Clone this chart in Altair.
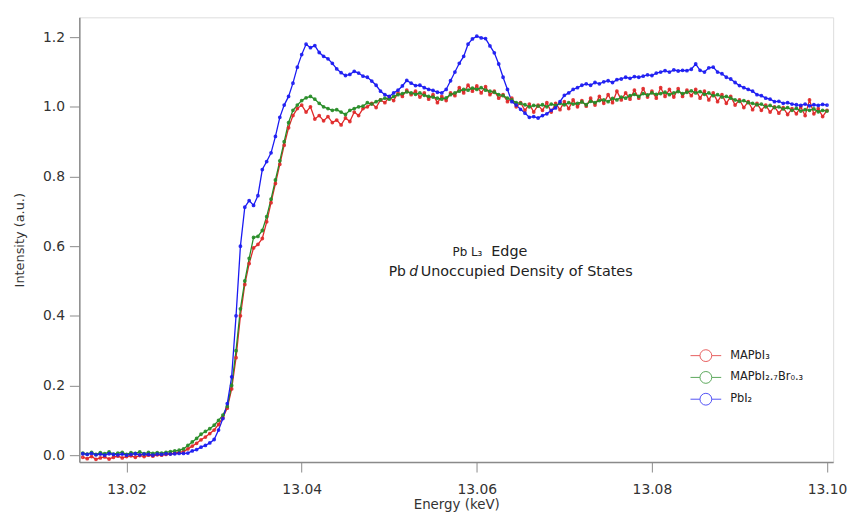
import altair as alt
import pandas as pd

# ---------------- data ----------------
E_START = 13.015
E_STEP = 0.0005

series_names = ["MAPbI₃", "MAPbI₂.₇Br₀.₃", "PbI₂"]
series_colors = ["#e02828", "#268c26", "#1a1af2"]

mapbi3 = [
    -0.006, -0.010, -0.004, -0.012, -0.008, -0.005, -0.011, -0.006, -0.003, -0.008,
    -0.004, -0.002, -0.006, -0.001, -0.004, 0.000, -0.003, 0.001,
    0.000, 0.002, 0.004, 0.006, 0.008, 0.010, 0.018, 0.026, 0.034, 0.044,
    0.052, 0.062, 0.072, 0.088, 0.108, 0.135, 0.19, 0.28, 0.40, 0.49,
    0.55, 0.595, 0.605, 0.622, 0.67, 0.725, 0.78, 0.835, 0.89, 0.94,
    0.975, 0.995, 1.005, 0.985, 1.0, 0.965, 0.975, 0.96, 0.972, 0.955,
    0.962, 0.948, 0.968, 0.958, 0.985, 0.975, 0.995, 1.0, 1.01, 0.998,
    1.02, 1.012, 1.028, 1.018, 1.04, 1.03, 1.048, 1.035, 1.045, 1.028,
    1.04, 1.022, 1.035, 1.012, 1.03, 1.018, 1.04, 1.032, 1.055, 1.04,
    1.062, 1.045, 1.06, 1.04, 1.058, 1.035, 1.045, 1.025, 1.035, 1.015,
    1.025, 1.0, 1.012, 0.99, 1.008, 0.985, 1.005, 0.99, 1.012, 0.985,
    1.01, 0.992, 1.015, 0.995, 1.02, 1.0, 1.018, 1.002, 1.025, 1.005,
    1.03, 1.01, 1.035, 1.012, 1.045, 1.02, 1.04, 1.022, 1.048, 1.025,
    1.052, 1.028, 1.045, 1.025, 1.055, 1.03, 1.05, 1.028, 1.052, 1.03,
    1.048, 1.032, 1.05, 1.025, 1.045, 1.02, 1.04, 1.015, 1.035, 1.01,
    1.03, 1.005, 1.02, 0.998, 1.015, 0.992, 1.01, 0.99, 1.005, 0.985,
    1.0, 0.982, 0.998, 0.978, 0.995, 0.98, 1.0, 0.975, 1.02, 0.98,
    0.995, 0.972, 0.99,
]

mapbi27br03 = [
    0.006, 0.003, 0.008, 0.002, 0.007, 0.004, 0.009, 0.003, 0.006, 0.008,
    0.002, 0.007, 0.005, 0.009, 0.004, 0.008, 0.005, 0.007,
    0.006, 0.008, 0.010, 0.012, 0.014, 0.018, 0.028, 0.038, 0.048, 0.060,
    0.068, 0.076, 0.086, 0.10, 0.115, 0.14, 0.20, 0.30, 0.42, 0.50,
    0.565, 0.625, 0.628, 0.645, 0.685, 0.735, 0.79, 0.845, 0.90, 0.955,
    0.99, 1.005, 1.018, 1.026, 1.03, 1.022, 1.01, 1.0, 0.995, 0.99,
    0.992, 0.985, 0.978, 0.99, 0.995, 1.0, 1.002, 1.012, 1.008, 1.015,
    1.02, 1.025, 1.022, 1.03, 1.035, 1.038, 1.043, 1.04, 1.036, 1.04,
    1.033, 1.03, 1.028, 1.025, 1.022, 1.026, 1.035, 1.04, 1.045, 1.05,
    1.048, 1.054, 1.05, 1.055, 1.048, 1.045, 1.042, 1.035, 1.032, 1.025,
    1.02, 1.012, 1.01, 1.006, 1.0, 1.004, 1.002, 1.006, 1.0, 1.008,
    1.004, 1.01, 1.006, 1.012, 1.008, 1.01, 1.014, 1.006, 1.016, 1.012,
    1.018, 1.02, 1.015, 1.024, 1.02, 1.028, 1.025, 1.032, 1.036, 1.03,
    1.038, 1.034, 1.04, 1.036, 1.038, 1.042, 1.035, 1.04, 1.044, 1.038,
    1.042, 1.046, 1.04, 1.044, 1.036, 1.04, 1.032, 1.035, 1.028, 1.03,
    1.025, 1.02, 1.016, 1.018, 1.012, 1.01, 1.006, 1.008, 1.0, 1.004,
    0.998, 1.0, 0.994, 0.998, 0.99, 0.996, 0.988, 0.992, 0.99, 0.994,
    0.986, 0.99, 0.988,
]

pbi2 = [
    0.004, 0.002, 0.005, 0.001, 0.003, 0.000, 0.004, 0.002, 0.001, 0.003,
    0.000, 0.002, 0.004, 0.001, 0.003, 0.002, 0.000, 0.003, 0.002, 0.004,
    0.003, 0.004, 0.005, 0.005,
    0.006, 0.012, 0.016, 0.023, 0.028, 0.035, 0.045, 0.072, 0.105, 0.148,
    0.225, 0.40, 0.60, 0.712, 0.731, 0.717, 0.745, 0.82, 0.843, 0.868,
    0.915, 0.97, 1.005, 1.03, 1.068, 1.114, 1.15, 1.18, 1.17, 1.176,
    1.156, 1.145, 1.138, 1.125, 1.109, 1.098, 1.09, 1.093, 1.102, 1.097,
    1.088, 1.085, 1.074, 1.062, 1.045, 1.035, 1.030, 1.040, 1.048, 1.06,
    1.076, 1.068, 1.061, 1.062, 1.055, 1.05, 1.047, 1.042, 1.040, 1.05,
    1.075, 1.10, 1.125, 1.145, 1.18, 1.195, 1.203, 1.198, 1.196, 1.175,
    1.155, 1.123, 1.085, 1.05, 1.015, 1.005, 0.993, 0.982, 0.97, 0.972,
    0.968, 0.975, 0.98, 0.99, 0.997, 1.015, 1.033, 1.04, 1.05, 1.055,
    1.062, 1.066, 1.062, 1.07, 1.066, 1.072, 1.075, 1.07, 1.078, 1.08,
    1.085, 1.082, 1.087, 1.085, 1.088, 1.092, 1.09, 1.097, 1.10, 1.104,
    1.10, 1.106, 1.103, 1.105, 1.104, 1.108, 1.123, 1.105, 1.10, 1.112,
    1.114, 1.10, 1.095, 1.085, 1.08, 1.07, 1.061, 1.055, 1.05, 1.045,
    1.035, 1.032, 1.025, 1.022, 1.015, 1.016, 1.01, 1.012, 1.008, 1.006,
    1.004, 1.008, 1.003, 1.006, 1.004, 1.007, 1.005,
]

x_ticks = [13.02, 13.04, 13.06, 13.08, 13.10]
y_ticks = [0.0, 0.2, 0.4, 0.6, 0.8, 1.0, 1.2]
x_domain = [13.0146, 13.1007]
y_domain = [-0.02, 1.257]

# annotation anchors (data coordinates)
line1_anchor = [13.0612, 0.583]
line2_anchor = [13.0528, 0.526]

# ---------------- build table ----------------
rows = []
for k, (name, vals) in enumerate(zip(series_names, [mapbi3, mapbi27br03, pbi2])):
    for i, v in enumerate(vals):
        rows.append({"energy": round(E_START + E_STEP * i, 4),
                     "intensity": v, "sample": name, "k": k})
df = pd.DataFrame(rows)

FONT = "DejaVu Sans"
GRAY = "#8a8a8a"
TXT = "#333333"

legend_path = ("M-2,0H-0.77M0.77,0H2"
               "M0.77,0A0.77,0.77,0,1,1,-0.77,0A0.77,0.77,0,1,1,0.77,0Z")

color_scale = alt.Scale(domain=series_names, range=series_colors)

x_enc = alt.X("energy:Q", scale=alt.Scale(domain=x_domain, nice=False, zero=False),
              axis=alt.Axis(values=x_ticks, format=".2f", title="Energy (keV)",
                            tickSize=10, labelPadding=11, titlePadding=1,
                            labelFontSize=14, titleFontSize=13.5, grid=False,
                            domainColor=GRAY, tickColor=GRAY, domainWidth=1.5,
                            labelColor=TXT, titleColor=TXT, titleFontWeight="normal",
                            labelFont=FONT, titleFont=FONT))
y_enc = alt.Y("intensity:Q", scale=alt.Scale(domain=y_domain, nice=False, zero=False),
              axis=alt.Axis(values=y_ticks, format=".1f", title="Intensity (a.u.)",
                            tickSize=10, labelPadding=5, titlePadding=16,
                            labelFontSize=14, titleFontSize=13, grid=False,
                            domainColor=GRAY, tickColor=GRAY, domainWidth=1.5,
                            labelColor=TXT, titleColor=TXT, titleFontWeight="normal",
                            labelFont=FONT, titleFont=FONT))

lines = alt.Chart(df).mark_line(strokeWidth=1.3).encode(
    x=x_enc,
    y=y_enc,
    color=alt.Color("sample:N", scale=color_scale, sort=series_names,
                    legend=alt.Legend(orient="none", legendX=624, legendY=333,
                                      title=None, symbolType=legend_path,
                                      symbolSize=240, symbolStrokeWidth=1,
                                      symbolFillColor="white", symbolOpacity=0.75,
                                      labelFontSize=11.5, labelOffset=16,
                                      labelFont=FONT, labelColor="#222222",
                                      rowPadding=5, padding=0)),
    detail="k:N",
    order="energy:Q",
)

points = alt.Chart(df).mark_point(size=5, filled=False, strokeWidth=1.6, opacity=0.9).encode(
    x="energy:Q",
    y="intensity:Q",
    color=alt.Color("sample:N", scale=color_scale, sort=series_names, legend=None),
)

ann1 = pd.DataFrame({"energy": [line1_anchor[0]], "intensity": [line1_anchor[1]]})
ann2 = pd.DataFrame({"energy": [line2_anchor[0]], "intensity": [line2_anchor[1]]})

def txt(data, text, size, align, dx, style="normal"):
    return alt.Chart(data).mark_text(
        text=text, fontSize=size, align=align, dx=dx, baseline="middle",
        font=FONT, fontStyle=style, color="#222222",
    ).encode(x="energy:Q", y="intensity:Q")

t1a = txt(ann1, "Pb L₃", 12, "right", -5)
t1b = txt(ann1, "Edge", 14.5, "left", 4)
t2a = txt(ann2, "Pb", 14, "right", -8)
t2b = txt(ann2, "d", 14, "center", 0, "italic")
t2c = txt(ann2, "Unoccupied Density of States", 14.5, "left", 7)

chart = alt.layer(lines, points, t1a, t1b, t2a, t2b, t2c).properties(
    width=761, height=449,
    autosize=alt.AutoSizeParams(type="none"),
    padding={"left": 72, "top": 7, "right": 16, "bottom": 56},
).configure_view(stroke=GRAY, strokeWidth=1.5).configure(font=FONT, background="white")

chart.save("out.html", embed_options={"renderer": "svg", "actions": False})
